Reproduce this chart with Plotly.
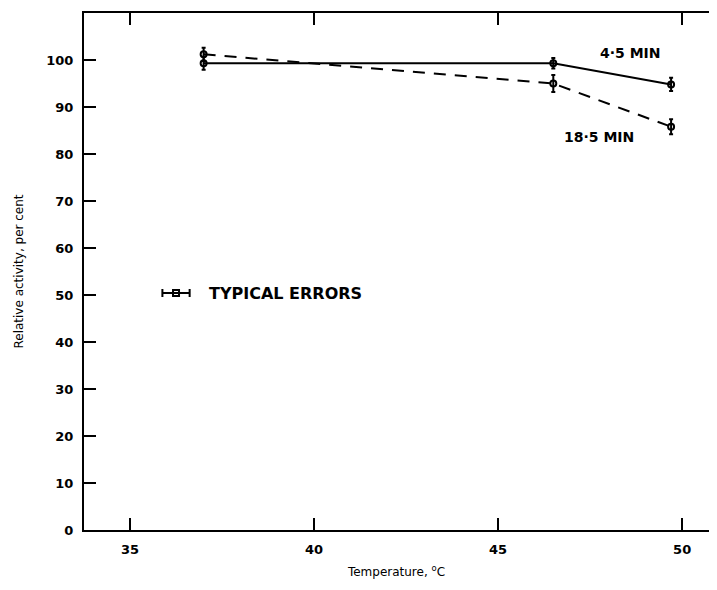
import plotly.graph_objects as go

# ---- data ----
temps = [37.0, 46.5, 49.7]
act_4_5 = [99.3, 99.3, 94.8]
err_4_5 = [1.4, 1.1, 1.4]
act_18_5 = [101.2, 95.0, 85.8]
err_18_5 = [1.4, 1.8, 1.6]

typ_err_x = [36.25]
typ_err_y = [50.4]
typ_err_half = [0.37]

x_ticks = [35, 40, 45, 50]
y_ticks = [0, 10, 20, 30, 40, 50, 60, 70, 80, 90, 100]

FONT = "DejaVu Sans"

fig = go.Figure()

fig.add_trace(go.Scatter(
    x=temps, y=act_4_5, mode="lines+markers", name="4·5 MIN",
    line=dict(color="black", width=2),
    marker=dict(symbol="circle-open", size=6, color="black", line=dict(width=2)),
    error_y=dict(type="data", array=err_4_5, color="black", thickness=2, width=2),
))
fig.add_trace(go.Scatter(
    x=temps, y=act_18_5, mode="lines+markers", name="18·5 MIN",
    line=dict(color="black", width=2, dash="12px,9px"),
    marker=dict(symbol="circle-open", size=6, color="black", line=dict(width=2)),
    error_y=dict(type="data", array=err_18_5, color="black", thickness=2, width=2),
))
fig.add_trace(go.Scatter(
    x=typ_err_x, y=typ_err_y, mode="markers", name="typical errors",
    marker=dict(symbol="square-open", size=6, color="black", line=dict(width=2)),
    error_x=dict(type="data", array=typ_err_half, color="black", thickness=2, width=4),
))

ann_font = dict(family=FONT, size=14, color="black", weight="bold")
fig.add_annotation(x=48.61, y=101.5, text="4·5 MIN", showarrow=False,
                   font=ann_font, xanchor="center", yanchor="middle")
fig.add_annotation(x=47.74, y=83.6, text="18·5 MIN", showarrow=False,
                   font=ann_font, xanchor="center", yanchor="middle")
fig.add_annotation(x=37.1, y=50.4, text="TYPICAL ERRORS", showarrow=False,
                   font=dict(family=FONT, size=16, color="black", weight="bold"),
                   xanchor="left", yanchor="middle")

# the page body adds 8px margins; keep the figure inside the window (no scrollbars)
fig.update_layout(
    width=701, height=572,
    margin=dict(l=76, r=0, t=5, b=50, autoexpand=False),
    plot_bgcolor="white", paper_bgcolor="white",
    showlegend=False,
    font=dict(family=FONT, color="black"),
    xaxis=dict(
        range=[33.75, 50.73], tickvals=x_ticks, ticktext=[str(v) for v in x_ticks],
        ticks="inside", ticklen=12, tickwidth=2, tickcolor="black",
        showline=True, linewidth=2, linecolor="black", mirror="ticks",
        showgrid=False, zeroline=False, automargin=False,
        tickfont=dict(family=FONT, size=13, weight="bold"),
        ticklabelstandoff=6,
        title=dict(text="Temperature, <sup>o</sup>C", standoff=12,
                   font=dict(family=FONT, size=12)),
    ),
    yaxis=dict(
        range=[0, 110], tickvals=y_ticks, ticktext=[str(v) for v in y_ticks],
        ticks="inside", ticklen=12, tickwidth=2, tickcolor="black",
        showline=True, linewidth=2, linecolor="black", mirror=False,
        showgrid=False, zeroline=False, automargin=False,
        tickfont=dict(family=FONT, size=13, weight="bold"),
        ticklabelstandoff=6,
        title=dict(text="Relative activity, per cent", standoff=20,
                   font=dict(family=FONT, size=12)),
    ),
)

fig.write_html("out.html")
